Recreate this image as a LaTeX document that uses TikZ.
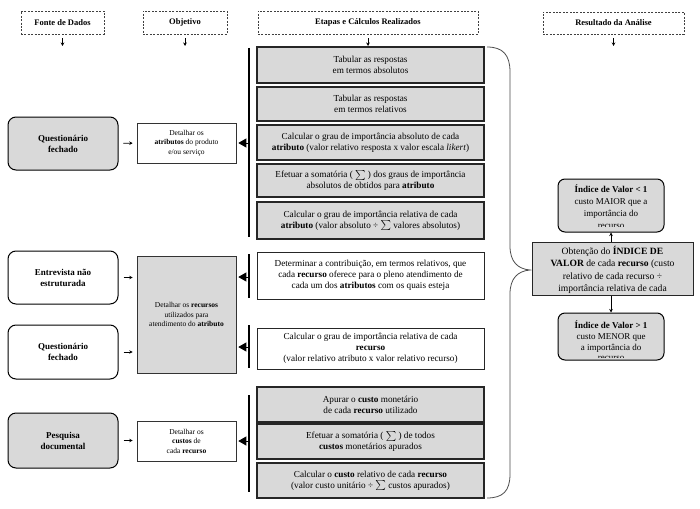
\documentclass[tikz,border=0pt]{standalone}
\usepackage{fontspec}
\setmainfont{Liberation Serif}[BoldFont=Liberation Serif Bold, ItalicFont=Liberation Serif Italic]
\usetikzlibrary{arrows.meta,calc}
\newcommand{\somat}{$\smash{\textstyle\sum}$}
\begin{document}
\begin{tikzpicture}[x=1pt,y=-1pt,
  hdr/.style={draw=black!75, dashed, dash pattern=on 2pt off 1.4pt, line width=0.7pt, inner sep=0pt, font=\fontsize{8.5}{10}\selectfont\bfseries},
  src/.style={draw=black, line width=1pt, rounded corners=8pt, minimum width=110pt, inner sep=0pt, align=center, font=\fontsize{9}{11}\selectfont\bfseries},
  srcg/.style={src, fill=gray!30},
  obj/.style={draw=black!80, line width=0.6pt, minimum width=99pt, inner sep=0pt, align=center, font=\fontsize{7.5}{9.5}\selectfont},
  stepbox/.style={draw=black!85, line width=1.3pt, fill=gray!30, minimum width=227pt, inner sep=0pt, align=center, font=\fontsize{9.2}{11}\selectfont},
  stepw/.style={draw=black!85, line width=1pt, fill=white, minimum width=227pt, inner sep=0pt, align=center, font=\fontsize{9.2}{11}\selectfont},
  idx/.style={draw=black, line width=1pt, rounded corners=7pt, fill=gray!30, minimum width=106pt, inner sep=0pt},
  idxtext/.style={inner sep=0pt, align=center, font=\fontsize{9}{12}\selectfont},
  bar/.style={line width=1.2pt, black},
  tri/.style={-{Triangle[length=8pt,width=9pt]}, line width=0.8pt, shorten >=2pt},
  sm/.style={-{Stealth[length=3.5pt,width=3.5pt]}, line width=0.8pt},
  brace/.style={draw=black!70, line width=0.8pt}
]
\useasboundingbox (0,0) rectangle (700,508);
\fill[white] (0,0) rectangle (700,508);

% headers
\node[hdr, minimum width=83pt, minimum height=23pt] (h1) at (62.5,22.5) {Fonte de Dados};
\node[hdr, minimum width=84pt, minimum height=23pt] (h2) at (185,22.5) {Objetivo};
\node[hdr, minimum width=220pt, minimum height=23pt] (h3) at (368,22.5) {Etapas e Cálculos Realizados};
\node[hdr, minimum width=141pt, minimum height=22pt] (h4) at (613.5,23) {Resultado da Análise};
\coordinate (ha1) at (62.5,46);
\coordinate (ha2) at (185,46);
\coordinate (ha3) at (368,46);
\coordinate (ha4) at (613.5,46);
\draw[sm, shorten <=4pt] (h1.south) -- (ha1);
\draw[sm, shorten <=4pt] (h2.south) -- (ha2);
\draw[sm, shorten <=4pt] (h3.south) -- (ha3);
\draw[sm, shorten <=4pt] (h4.south) -- (ha4);

% sources
\node[srcg, minimum height=53pt] (q1) at (63,143.5) {Questionário\\fechado};
\node[src, minimum height=53pt] (ent) at (63,277.5) {Entrevista não\\estruturada};
\node[src, minimum height=54pt] (q2) at (63,352) {Questionário\\fechado};
\node[srcg, minimum height=55pt] (pes) at (63,440.5) {Pesquisa\\documental};

% objectives
\node[obj, minimum height=40pt] (oa) at (186.5,143) {Detalhar os\\\textbf{atributos} do produto\\e/ou serviço};
\node[obj, minimum height=117pt, fill=gray!30] (orc) at (186.5,314.5) {Detalhar os \textbf{recursos}\\utilizados para\\atendimento do \textbf{atributo}};
\node[obj, minimum height=40pt] (oc) at (186.5,441) {Detalhar os\\\textbf{custos} de\\cada \textbf{recurso}};

\draw[sm, shorten <=5pt, shorten >=4pt] (q1.east) -- (oa.west);
\draw[sm, shorten <=5pt, shorten >=4pt] (ent.east) -- (ent.east -| orc.west);
\draw[sm, shorten <=5pt, shorten >=4pt] (q2.east) -- (q2.east -| orc.west);
\draw[sm, shorten <=5pt, shorten >=4pt] (pes.east) -- (pes.east -| oc.west);

% steps
\node[stepbox, minimum height=36pt] (s1) at (370.5,65) {Tabular as respostas\\em termos absolutos};
\node[stepbox, minimum height=34pt] (s2) at (370.5,104) {Tabular as respostas\\em termos relativos};
\node[stepbox, minimum height=35pt] (s3) at (370.5,142.5) {Calcular o grau de importância absoluto de cada\\\textbf{atributo} (valor relativo resposta x valor escala \textit{likert})};
\node[stepbox, minimum height=33pt] (s4) at (370.5,180.5) {Efetuar a somatória ( \somat{} ) dos graus de importância\\absolutos de obtidos para \textbf{atributo}};
\node[stepbox, minimum height=37pt] (s5) at (370.5,220.5) {Calcular o grau de importância relativa de cada\\\textbf{atributo} (valor absoluto ÷ \somat{} valores absolutos)};
\node[stepw, minimum height=47pt] (s6) at (370.5,275.5) {Determinar a contribuição, em termos relativos, que\\cada \textbf{recurso} oferece para o pleno atendimento de\\cada um dos \textbf{atributos} com os quais esteja};
\node[stepw, minimum height=41pt] (s7) at (370.5,348.5) {Calcular o grau de importância relativa de cada\\\textbf{recurso}\\(valor relativo atributo x valor relativo recurso)};
\node[stepbox, minimum height=35pt] (s8) at (370.5,404.5) {Apurar o \textbf{custo} monetário\\de cada \textbf{recurso} utilizado};
\node[stepbox, minimum height=35pt] (s9) at (370.5,441.5) {Efetuar a somatória ( \somat{} ) de todos\\\textbf{custos} monetários apurados};
\node[stepbox, minimum height=35pt] (s10) at (370.5,480.5) {Calcular o \textbf{custo} relativo de cada \textbf{recurso}\\(valor custo unitário ÷ \somat{} custos apurados)};

% bars
\coordinate (b1t) at (249,48);  \coordinate (b1b) at (249,237);
\coordinate (b2t) at (249,254); \coordinate (b2b) at (249,298);
\coordinate (b3t) at (249,325); \coordinate (b3b) at (249,368);
\coordinate (b4t) at (249,395); \coordinate (b4b) at (249,492);
\draw[bar] (b1t) -- (b1b);
\draw[bar] (b2t) -- (b2b);
\draw[bar] (b3t) -- (b3b);
\draw[bar] (b4t) -- (b4b);
\coordinate (t1) at (249,143);
\coordinate (t2) at (249,277);
\coordinate (t3) at (249,347);
\coordinate (t4) at (249,441);
\draw[tri] (t1) -- (t1 -| oa.east);
\draw[tri] (t2) -- (t2 -| orc.east);
\draw[tri] (t3) -- (t3 -| orc.east);
\draw[tri] (t4) -- (t4 -| oc.east);

% brace
\draw[brace] (487,47) .. controls (503,47) and (510,55) .. (510,72) -- (510,246)
  .. controls (510,262) and (518,269) .. (530,270)
  .. controls (518,271) and (510,278) .. (510,294) -- (510,474)
  .. controls (510,491) and (503,498) .. (487,498);

% results
\node[draw=black!85, line width=1pt, fill=gray!30, minimum width=161pt, minimum height=53pt, inner sep=0pt] (ob) at (612.5,268.5) {};
\node[idx, minimum height=53pt] (ilt) at (611,205.5) {};
\node[idx, minimum height=47pt] (igt) at (611,336.5) {};
\draw[sm] (ob.north -| ilt.south) -- (ilt.south);
\draw[sm] (ob.south -| igt.north) -- (igt.north);

\begin{scope}
\clip ($(ob.north west)+(2,2)$) rectangle ($(ob.south east)+(-2,-1.5)$);
\node[idxtext, font=\fontsize{9.6}{12.5}\selectfont, anchor=north] at ($(ob.north)+(0,4.5)$) {Obtenção do \textbf{ÍNDICE DE}\\\textbf{VALOR} de cada \textbf{recurso} (custo\\relativo de cada recurso ÷\\importância relativa de cada};
\end{scope}
\begin{scope}
\clip ($(ilt.north west)+(2,2)$) rectangle ($(ilt.south east)+(-2,-6.5)$);
\node[idxtext, anchor=north] at ($(ilt.north)+(0,6)$) {\textbf{Índice de Valor < 1}\\custo MAIOR que a\\importância do\\recurso};
\end{scope}
\begin{scope}
\clip ($(igt.north west)+(2,2)$) rectangle ($(igt.south east)+(-2,-3.5)$);
\node[idxtext, font=\fontsize{9}{10.8}\selectfont, anchor=north] at ($(igt.north)+(0,8)$) {\textbf{Índice de Valor > 1}\\custo MENOR que\\a importância do\\recurso};
\end{scope}
\end{tikzpicture}
\end{document}
